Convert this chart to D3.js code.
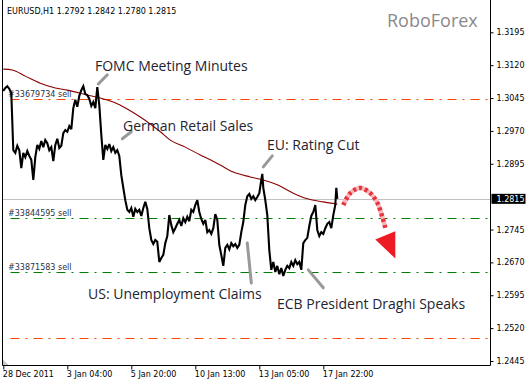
<!DOCTYPE html>
<html><head><meta charset="utf-8">
<script src="https://cdn.jsdelivr.net/npm/d3@7"></script>
<style>body{margin:0;background:#fff}svg{display:block}</style>
</head><body><svg id="c" width="530" height="383"></svg>
<script>
// ---------------- data ----------------
const symbolHeader = "EURUSD,H1  1.2792 1.2842 1.2780 1.2815";
const brand = "RoboForex";
const timeTickIndex = [0, 64, 128, 192, 256, 320];
const timeTickLabels = ["28 Dec 2011", "3 Jan 04:00", "5 Jan 20:00", "10 Jan 13:00", "13 Jan 05:00", "17 Jan 22:00"];
const priceTicks = [1.3195, 1.3120, 1.3045, 1.2970, 1.2895, 1.2745, 1.2670, 1.2595, 1.2520, 1.2445];
const lastPrice = 1.2815;

const barIndex = [0,2,4,6,8,10,12,14,16,18,20,22,24,26,28,30,32,34,36,38,40,42,44,46,48,50,52,54,56,58,60,62,64,66,68,70,72,74,76,78,80,82,84,86,88,90,92,94,96,98,100,102,104,106,108,110,112,114,116,118,120,122,124,126,128,130,132,134,136,138,140,142,144,146,148,150,152,154,156,158,160,162,164,166,168,170,172,174,176,178,180,182,184,186,188,190,192,194,196,198,200,202,204,206,208,210,212,214,216,218,220,222,224,226,228,230,232,234,236,238,240,242,244,246,248,250,252,254,256,258,259,260,262,264,266,268,270,272,274,276,278,280,282,284,286,288,290,292,294,296,298,300,302,304,306,308,310,312,314,316,318,320,322,324,326,328,330,332,333,334];
const closes = [1.3061,1.3068,1.3072,1.3066,1.3056,1.2926,1.2920,1.2936,1.2926,1.2885,1.2920,1.2910,1.2924,1.2913,1.2904,1.2858,1.2910,1.2938,1.2929,1.2947,1.2933,1.2949,1.2942,1.2926,1.2933,1.2901,1.2938,1.2952,1.2931,1.2936,1.2965,1.2972,1.2968,1.2981,1.2974,1.3022,1.3041,1.3025,1.3050,1.3063,1.3072,1.3054,1.3052,1.3043,1.3027,1.3036,1.3022,1.3070,1.3029,1.2961,1.2904,1.2938,1.2929,1.2940,1.2924,1.2933,1.2920,1.2926,1.2913,1.2869,1.2840,1.2812,1.2790,1.2785,1.2794,1.2774,1.2792,1.2785,1.2790,1.2776,1.2794,1.2808,1.2792,1.2748,1.2721,1.2712,1.2721,1.2717,1.2671,1.2680,1.2687,1.2714,1.2730,1.2778,1.2755,1.2739,1.2748,1.2758,1.2767,1.2753,1.2771,1.2762,1.2774,1.2764,1.2790,1.2785,1.2801,1.2812,1.2785,1.2769,1.2758,1.2767,1.2739,1.2744,1.2735,1.2748,1.2780,1.2767,1.2710,1.2687,1.2662,1.2703,1.2710,1.2700,1.2714,1.2707,1.2712,1.2703,1.2710,1.2739,1.2762,1.2801,1.2821,1.2826,1.2815,1.2821,1.2812,1.2819,1.2828,1.2858,1.2872,1.2840,1.2812,1.2778,1.2698,1.2653,1.2671,1.2648,1.2662,1.2643,1.2657,1.2639,1.2653,1.2662,1.2657,1.2671,1.2662,1.2675,1.2666,1.2671,1.2653,1.2714,1.2721,1.2726,1.2753,1.2776,1.2785,1.2801,1.2744,1.2730,1.2739,1.2735,1.2748,1.2758,1.2762,1.2748,1.2778,1.2801,1.2840,1.2815];

const maIndex = [0,9,22,37,52,64,84,97,115,124,140,157,167,182,197,207,217,230,247,260,274,290,304,320,334];
const maValues = [1.3111,1.3109,1.3095,1.3079,1.3068,1.3063,1.3052,1.3045,1.3031,1.3020,1.2997,1.2968,1.2949,1.2933,1.2915,1.2904,1.2892,1.2876,1.2865,1.2858,1.2847,1.2828,1.2815,1.2808,1.2803];

const orderLevels = [1.3043, 1.2771, 1.2647, 1.2497];
const orderLabels = ["#33679734 sell", "#33844595 sell", "#33871583 sell", ""];

const eventTexts = ["FOMC Meeting Minutes", "German Retail Sales", "EU: Rating Cut", "US: Unemployment Claims", "ECB President Draghi Speaks"];
// pointer ends in (bar index, price)
const pointerFromIndex = [95, 119, 260, 244, 305];
const pointerFromPrice = [1.3077, 1.2952, 1.2888, 1.2714, 1.2653];
const pointerToIndex = [104, 128, 269, 248, 320];
const pointerToPrice = [1.3098, 1.2968, 1.2913, 1.2623, 1.2612];

// forecast arc (bar index, price)
const forecastIndex = [340, 347, 357, 367, 374, 379, 382];
const forecastPrice = [1.2801, 1.2828, 1.2840, 1.2828, 1.2806, 1.2774, 1.2749];
const arrowIndex = [372, 392, 392];
const arrowPrice = [1.2722, 1.2741, 1.2679];

// ---------------- layout / style ----------------
const W = 530, H = 383;
const plotLeft = 2.5, plotRight = 490.5, plotBottom = 365.5;
const svg = d3.select("#c");
svg.append("rect").attr("width", W).attr("height", H).attr("fill", "#fff");

const x = d3.scaleLinear().domain([0, 487]).range([3.3, 490.3]);
const y = d3.scaleLinear().domain([1.2445, 1.3195]).range([361, 32.3]);

const smallFont = "DejaVu Sans";
const bigFont = "Open Sans";

// current price line
svg.append("line")
  .attr("x1", plotLeft).attr("x2", plotRight)
  .attr("y1", Math.round(y(lastPrice)) + 0.5).attr("y2", Math.round(y(lastPrice)) + 0.5)
  .attr("stroke", "#c0c0c0").attr("stroke-width", 1);

// order lines
const orderColors = ["#ff4500", "#008000", "#008000", "#ff4500"];
orderLevels.forEach((lv, i) => {
  const yy = Math.round(y(lv)) + 0.5;
  svg.append("line")
    .attr("x1", plotLeft + 8).attr("x2", plotRight - 1)
    .attr("y1", yy).attr("y2", yy)
    .attr("stroke", orderColors[i]).attr("stroke-width", 1.2)
    .attr("stroke-dasharray", "9,6,2,6");
  if (orderLabels[i]) {
    svg.append("text").attr("x", 8).attr("y", yy - 2.5)
      .attr("font-family", smallFont).attr("font-size", 8)
      .attr("fill", "#28324a").text(orderLabels[i]);
  }
});

// moving average
const maLine = d3.line().x((d, i) => x(maIndex[i])).y(d => y(d)).curve(d3.curveMonotoneX);
svg.append("path").attr("d", maLine(maValues))
  .attr("fill", "none").attr("stroke", "#8b0000").attr("stroke-width", 1.1);

// price
const priceLine = d3.line().x((d, i) => x(barIndex[i])).y(d => y(d));
svg.append("path").attr("d", priceLine(closes))
  .attr("fill", "none").attr("stroke", "#000").attr("stroke-width", 2.1)
  .attr("stroke-linejoin", "miter").attr("stroke-miterlimit", 3);

// pointers
eventTexts.forEach((t, i) => {
  svg.append("line")
    .attr("x1", x(pointerFromIndex[i])).attr("y1", y(pointerFromPrice[i]))
    .attr("x2", x(pointerToIndex[i])).attr("y2", y(pointerToPrice[i]))
    .attr("stroke", "#999").attr("stroke-width", 3).attr("stroke-linecap", "round");
});

// event texts
const textPos = [[95, 71], [123, 131], [267, 150], [88, 299], [277, 309]];
eventTexts.forEach((t, i) => {
  svg.append("text").attr("x", textPos[i][0]).attr("y", textPos[i][1])
    .attr("font-family", bigFont).attr("font-size", 14)
    .attr("fill", "#1e2430").text(t);
});

// forecast arrow
const arc = d3.line().x((d, i) => x(forecastIndex[i])).y(d => y(d)).curve(d3.curveCatmullRom);
svg.append("path").attr("d", arc(forecastPrice))
  .attr("fill", "none").attr("stroke", "#f7b8bb").attr("stroke-width", 4.5);
svg.append("path").attr("d", arc(forecastPrice))
  .attr("fill", "none").attr("stroke", "#e8323c").attr("stroke-width", 4.5)
  .attr("stroke-dasharray", "3,3");
svg.append("path")
  .attr("d", d3.line().x((d, i) => x(arrowIndex[i])).y(d => y(d))(arrowPrice) + "Z")
  .attr("fill", "#ed1c24");

// header + brand
svg.append("text").attr("x", 7).attr("y", 14)
  .attr("font-family", smallFont).attr("font-size", 8).attr("fill", "#000")
  .text(symbolHeader);
svg.append("text").attr("x", 387).attr("y", 27)
  .attr("font-family", bigFont).attr("font-size", 18).attr("fill", "#8a8a8a")
  .text(brand);

// frame
svg.append("line").attr("x1", plotLeft).attr("x2", plotLeft).attr("y1", 0).attr("y2", plotBottom).attr("stroke", "#000");
svg.append("line").attr("x1", plotLeft).attr("x2", plotRight).attr("y1", plotBottom).attr("y2", plotBottom).attr("stroke", "#000");
svg.append("path").attr("d", `M${plotLeft+0.5},${plotBottom-6} L${plotLeft+0.5},${plotBottom-0.5} L${plotLeft+6},${plotBottom-0.5} Z`).attr("fill", "#c8c8c8");

// y axis
const yAxis = d3.axisRight(y).tickValues(priceTicks).tickSize(3).tickPadding(3).tickFormat(d3.format(".4f"));
const gy = svg.append("g").attr("transform", `translate(${plotRight},0)`).call(yAxis);
gy.select(".domain").attr("d", `M0,0V${plotBottom}`);
gy.selectAll("text").attr("font-family", smallFont).attr("font-size", 8).attr("fill", "#000");
gy.selectAll(".tick line").attr("stroke", "#000");

// current price label
const ly = y(lastPrice);
svg.append("rect").attr("x", plotRight + 1).attr("y", ly - 5).attr("width", 34).attr("height", 10).attr("fill", "#000");
svg.append("text").attr("x", plotRight + 6).attr("y", ly + 3.2)
  .attr("font-family", smallFont).attr("font-size", 8).attr("fill", "#fff").text(lastPrice.toFixed(4));

// x axis
const xAxis = d3.axisBottom(x).tickValues(timeTickIndex).tickSize(4).tickPadding(2).tickFormat((d, i) => timeTickLabels[i]);
const gx = svg.append("g").attr("transform", `translate(0,${plotBottom})`).call(xAxis);
gx.select(".domain").remove();
gx.selectAll("text").attr("font-family", smallFont).attr("font-size", 8).attr("fill", "#000")
  .attr("text-anchor", "start").attr("dx", "-1");
gx.selectAll(".tick line").attr("stroke", "#000");
</script></body></html>
